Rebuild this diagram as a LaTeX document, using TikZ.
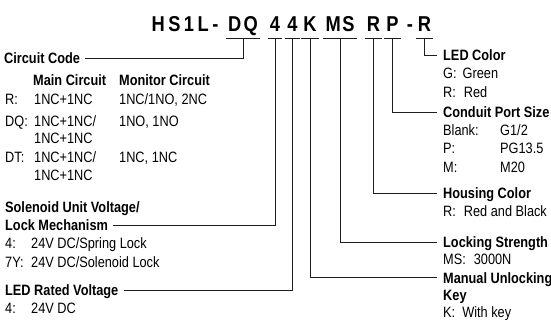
\documentclass[tikz,border=0pt]{standalone}
\usepackage{fontspec}
\setmainfont[FakeStretch=0.85]{Liberation Sans}
\definecolor{darkline}{HTML}{1E1E1E}
\tikzset{
  code/.style={anchor=base, inner xsep=2pt, inner ysep=6pt, text depth=0pt, font=\fontsize{21.5}{21.5}\selectfont\bfseries},
  head/.style={anchor=west, inner sep=0pt, text height=11pt, text depth=0pt, font=\fontsize{15}{15}\selectfont\bfseries},
  entry/.style={head, font=\fontsize{15}{15}\selectfont},
  bar/.style={draw=darkline, line width=0.9pt},
  link/.style={draw=darkline, line width=0.9pt}
}
\begin{document}
\begin{tikzpicture}[x=1pt, y=-1pt]
\useasboundingbox (0,0) rectangle (551,320);

% model number
\node[code] (hs) at (185,32) {H\kern3.5pt S\kern3.5pt 1\kern3.5pt L\kern3.5pt -};
\node[code] (dq) at (243,32) {D\kern2.5pt Q};
\node[code] (volt) at (275,32) {4};
\node[code] (ledv4) at (292.5,32) {4};
\node[code] (ukey) at (310,32) {K};
\node[code] (ms) at (340,32) {M\kern1.5pt S};
\node[code] (hcol) at (373.5,32) {R};
\node[code] (port) at (392.5,32) {P};
\node[code] (dash) at (410,32) {-};
\node[code] (lcol) at (424.5,32) {R};

\foreach \n in {dq,volt,ledv4,ukey,ms,hcol,port,lcol} {
  \draw[bar] (\n.south west) -- (\n.south east);
}

% left column
\node[head] (cc) at (4,58) {Circuit Code};
\node[head] (mainc) at (33,80) {Main Circuit};
\node[head] (monc) at (119,80) {Monitor Circuit};
\node[entry] (rk) at (5,99) {R:};
\node[entry] (rm) at (34,99) {1NC+1NC};
\node[entry] (rn) at (119,99) {1NC/1NO, 2NC};
\node[entry] (dqk) at (5,121) {DQ:};
\node[entry] (dqm) at (34,121) {1NC+1NC/};
\node[entry] (dqn) at (119,121) {1NO, 1NO};
\node[entry] (dqm2) at (34,138.5) {1NC+1NC};
\node[entry] (dtk) at (5,157) {DT:};
\node[entry] (dtm) at (34,157) {1NC+1NC/};
\node[entry] (dtn) at (119,157) {1NC, 1NC};
\node[entry] (dtm2) at (34,175) {1NC+1NC};

\node[head] (sol) at (5,207) {Solenoid Unit Voltage/};
\node[head] (lock) at (5,225) {Lock Mechanism};
\node[entry] (s4) at (5,243) {4:};
\node[entry] (s4v) at (31,243) {24V DC/Spring Lock};
\node[entry] (s7) at (5,262) {7Y:};
\node[entry] (s7v) at (31,262) {24V DC/Solenoid Lock};

\node[head] (ledv) at (5,290) {LED Rated Voltage};
\node[entry] (l4) at (5,308) {4:};
\node[entry] (l4v) at (31,308) {24V DC};

% right column
\node[head] (ledc) at (443,55) {LED Color};
\node[entry] (gk) at (443,73) {G:\hspace{6pt}Green};
\node[entry] (rdk) at (443,92) {R:\hspace{8pt}Red};

\node[head] (cps) at (443,112) {Conduit Port Size};
\node[entry] (bk) at (443,130) {Blank:};
\node[entry] (bv) at (500,130) {G1/2};
\node[entry] (pk) at (443,148) {P:};
\node[entry] (pv) at (500,148) {PG13.5};
\node[entry] (mk) at (443,167) {M:};
\node[entry] (mv) at (500,167) {M20};

\node[head] (hc) at (443,193) {Housing Color};
\node[entry] (hck) at (443,211) {R:\hspace{8pt}Red and Black};

\node[head] (ls) at (443,242) {Locking Strength};
\node[entry] (lsk) at (443,259.5) {MS:\hspace{8pt}3000N};

\node[head] (mu) at (443,277.5) {Manual Unlocking};
\node[head] (mu2) at (443,295) {Key};
\node[entry] (muk) at (443,311.5) {K:\hspace{7pt}With key};

% leaders
\draw[link] (dq.south) |- ([xshift=5pt]cc.east);
\draw[link] (volt.south) |- ([xshift=5pt]lock.east);
\draw[link] (ledv4.south) |- ([xshift=5pt]ledv.east);
\draw[link] (ukey.south) |- ([xshift=-6pt]mu.west);
\draw[link] (ms.south) |- ([xshift=-6pt]ls.west);
\draw[link] (hcol.south) |- ([xshift=-6pt]hc.west);
\draw[link] (port.south) |- ([xshift=-6pt]cps.west);
\draw[link] (lcol.south) |- ([xshift=-6pt]ledc.west);

\end{tikzpicture}
\end{document}
